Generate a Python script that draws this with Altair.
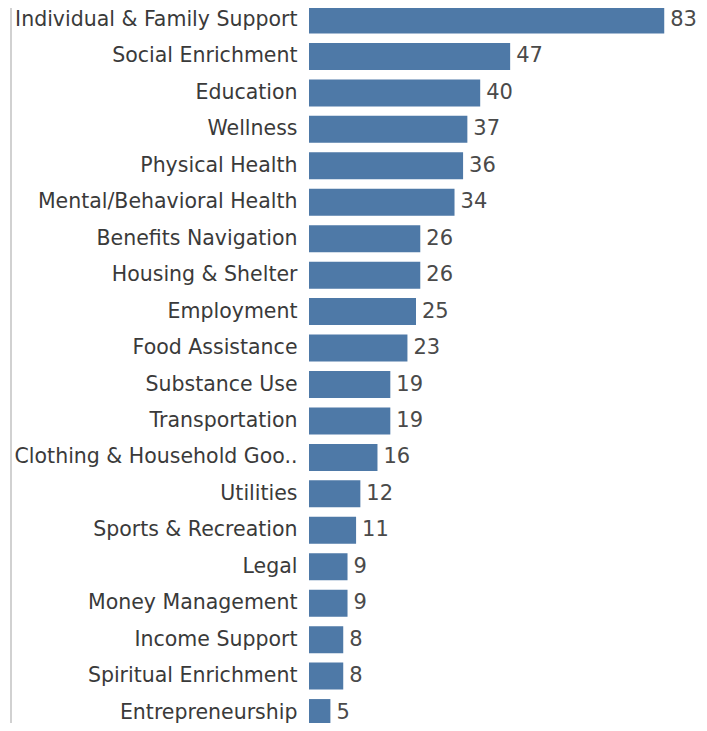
import altair as alt
import pandas as pd

categories = [
    "Individual & Family Support", "Social Enrichment", "Education", "Wellness",
    "Physical Health", "Mental/Behavioral Health", "Benefits Navigation",
    "Housing & Shelter", "Employment", "Food Assistance", "Substance Use",
    "Transportation", "Clothing & Household Goo..", "Utilities",
    "Sports & Recreation", "Legal", "Money Management", "Income Support",
    "Spiritual Enrichment", "Entrepreneurship",
]
counts = [83, 47, 40, 37, 36, 34, 26, 26, 25, 23, 19, 19, 16, 12, 11, 9, 9, 8, 8, 5]

df = pd.DataFrame({"category": categories, "count": counts})

W = 390
H = 715
STEP = 36.45
START = 12 - STEP / 2
FONT = "DejaVu Sans"
FS = 20.5
PX_PER_UNIT = 4.28

y_enc = alt.Y(
    "category:N",
    sort=categories,
    scale=alt.Scale(range=[START, START + STEP * len(categories)],
                    paddingInner=0.26, paddingOuter=0.13),
    axis=alt.Axis(title=None, domain=False, ticks=False, grid=False,
                  labelPadding=12, labelFontSize=FS, labelFont=FONT,
                  labelColor="#3a3a3a", labelLimit=400),
)
x_enc = alt.X("count:Q", scale=alt.Scale(domain=[0, W / PX_PER_UNIT], nice=False),
              axis=None)

bars = alt.Chart(df).mark_bar(color="#4e79a7").encode(x=x_enc, y=y_enc)
labels = alt.Chart(df).mark_text(
    align="left", baseline="middle", dx=6, fontSize=21, font=FONT,
    color="#4a4a4a"
).encode(x=x_enc, y=y_enc, text="count:Q")
rule = alt.Chart(df).mark_rule(color="#d0d0d0", strokeWidth=1.5).encode(
    x=alt.value(-298), y=alt.value(-20), y2=alt.value(H + 20)
)

chart = alt.layer(rule, bars, labels).properties(
    width=W, height=H,
    autosize=alt.AutoSizeParams(type="none"),
    padding={"left": 301, "top": 0, "right": 0, "bottom": 0},
).configure_view(stroke=None)

chart.save("out.html", embed_options={"renderer": "svg", "actions": False})
